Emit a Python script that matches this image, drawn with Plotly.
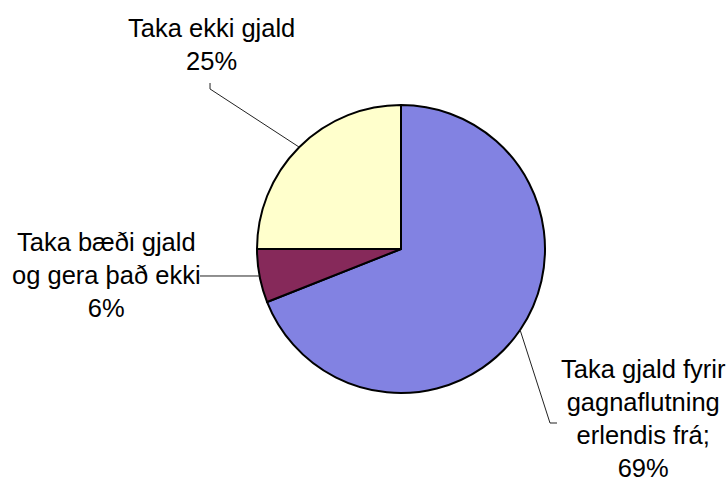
import math
import plotly.graph_objects as go

# ---- data ----
categories = ["Taka gjald fyrir gagnaflutning erlendis frá",
              "Taka bæði gjald og gera það ekki",
              "Taka ekki gjald"]
values = [69, 6, 25]
label_texts = ["Taka gjald fyrir<br>gagnaflutning<br>erlendis frá;<br>69%",
               "Taka bæði gjald<br>og gera það ekki<br>6%",
               "Taka ekki gjald<br>25%"]
colors = ["#8282e2", "#86295a", "#ffffcc"]

# ---- layout geometry (pixels) ----
W, H = 728, 482
CX, CY, R = 401, 249, 144


def px(x, y):
    return x / W, 1 - y / H


fig = go.Figure()
fig.add_trace(go.Pie(
    labels=categories, values=values, sort=False, direction="clockwise",
    rotation=0, textinfo="none", hoverinfo="label+percent",
    marker=dict(colors=colors, line=dict(color="#000000", width=2)),
    domain=dict(x=[(CX - R) / W, (CX + R) / W], y=[1 - (CY + R) / H, 1 - (CY - R) / H]),
    showlegend=False,
))

# edge points at the middle of each slice, derived from the values
total = sum(values)
cum = 0
edge = []
for v in values:
    mid = (cum + v / 2) / total * 2 * math.pi
    edge.append((CX + R * math.sin(mid), CY - R * math.cos(mid)))
    cum += v

# label positions and leader-line elbows
label_pos = [(643, 418), (106, 275), (211, 44)]
elbows = [[(550, 423), (557, 423)], [(200, 276)], [(210, 89), (210, 83)]]

shapes = []
annotations = []
for i in range(len(values)):
    pts = [edge[i]] + elbows[i]
    path = "M " + " L ".join("%.4f %.4f" % px(x, y) for x, y in pts)
    shapes.append(dict(type="path", xref="paper", yref="paper", path=path,
                       line=dict(color="#222222", width=1)))
    lx, ly = px(*label_pos[i])
    annotations.append(dict(x=lx, y=ly, xref="paper", yref="paper", text=label_texts[i],
                            showarrow=False, xanchor="center", yanchor="middle", align="center",
                            borderpad=0,
                            font=dict(family="Liberation Sans, Arial, sans-serif", size=25.5,
                                      color="#000000")))

fig.update_layout(width=W, height=H, margin=dict(l=0, r=0, t=0, b=0),
                  paper_bgcolor="#ffffff", plot_bgcolor="#ffffff",
                  shapes=shapes, annotations=annotations)

fig.write_html("out.html", config={"displayModeBar": False},
               post_script="document.body.style.margin='0';")
